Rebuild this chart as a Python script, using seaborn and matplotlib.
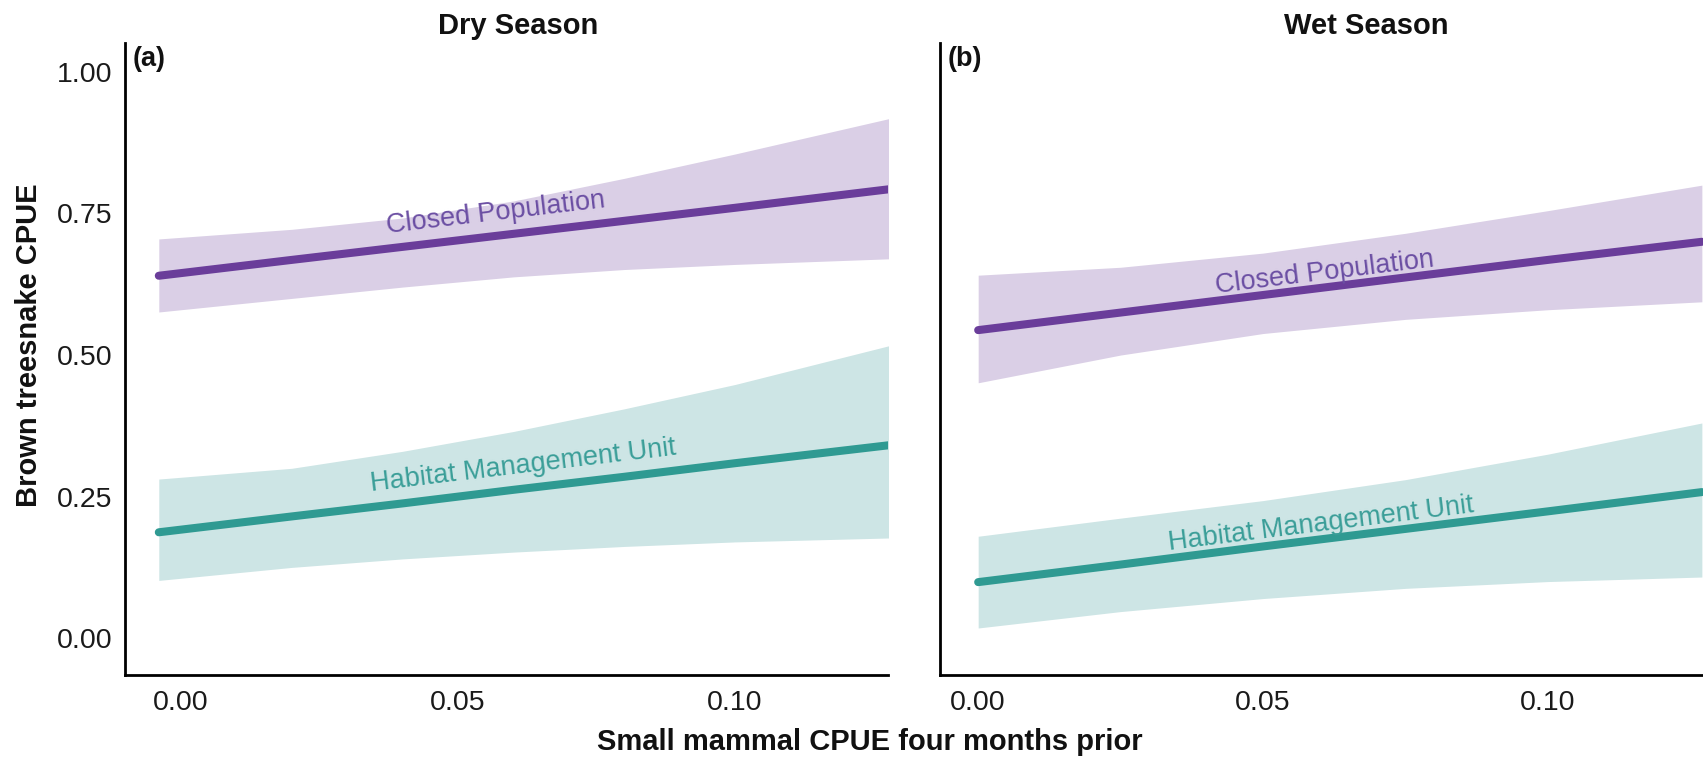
import numpy as np
import pandas as pd
import matplotlib
matplotlib.use("Agg")
import matplotlib.pyplot as plt
import seaborn as sns

# ---------------- data ----------------
x_dry = [-0.004, 0.02, 0.04, 0.06, 0.08, 0.10, 0.128]
dry_closed_fit = [0.640, 0.668, 0.691, 0.714, 0.737, 0.760, 0.793]
dry_closed_lo = [0.576, 0.600, 0.620, 0.638, 0.651, 0.660, 0.670]
dry_closed_hi = [0.705, 0.722, 0.742, 0.772, 0.812, 0.855, 0.918]
dry_hmu_fit = [0.187, 0.215, 0.238, 0.262, 0.285, 0.309, 0.341]
dry_hmu_lo = [0.102, 0.125, 0.140, 0.152, 0.162, 0.170, 0.177]
dry_hmu_hi = [0.281, 0.300, 0.330, 0.365, 0.405, 0.448, 0.517]

x_wet = [0.0, 0.025, 0.05, 0.075, 0.10, 0.127]
wet_closed_fit = [0.544, 0.575, 0.606, 0.637, 0.668, 0.700]
wet_closed_lo = [0.451, 0.500, 0.538, 0.563, 0.580, 0.594]
wet_closed_hi = [0.641, 0.655, 0.680, 0.715, 0.755, 0.800]
wet_hmu_fit = [0.099, 0.130, 0.162, 0.193, 0.224, 0.258]
wet_hmu_lo = [0.018, 0.047, 0.070, 0.088, 0.100, 0.108]
wet_hmu_hi = [0.180, 0.212, 0.243, 0.280, 0.325, 0.380]

groups = ["Closed Population", "Habitat Management Unit"]
seasons = ["Dry Season", "Wet Season"]
panel_tags = ["(a)", "(b)"]
y_ticks = [0.00, 0.25, 0.50, 0.75, 1.00]
x_ticks = [0.00, 0.05, 0.10]
xlabel = "Small mammal CPUE four months prior"
ylabel = "Brown treesnake CPUE"

# ---------------- styling ----------------
sns.set_theme(style="white")
plt.rcParams["font.family"] = ["Liberation Sans", "DejaVu Sans"]

line_col = {"Closed Population": "#6a3d9a", "Habitat Management Unit": "#2f9a92"}
band_col = {"Closed Population": "#dacfe6", "Habitat Management Unit": "#cde5e5"}
text_col = {"Closed Population": "#6b4ea3", "Habitat Management Unit": "#3a9e98"}

W, H = 1703, 761
fig = plt.figure(figsize=(W / 100, H / 100), dpi=100)

ax_left = fig.add_axes([125 / W, 1 - 675 / H, (888 - 125) / W, (675 - 43) / H])
ax_right = fig.add_axes([940 / W, 1 - 675 / H, (1703 - 940) / W, (675 - 43) / H])

panels = [
    (ax_left, x_dry,
     {"Closed Population": (dry_closed_fit, dry_closed_lo, dry_closed_hi),
      "Habitat Management Unit": (dry_hmu_fit, dry_hmu_lo, dry_hmu_hi)},
     (-0.0101, 0.1276), {"Closed Population": 0.057, "Habitat Management Unit": 0.062}, 7),
    (ax_right, x_wet,
     {"Closed Population": (wet_closed_fit, wet_closed_lo, wet_closed_hi),
      "Habitat Management Unit": (wet_hmu_fit, wet_hmu_lo, wet_hmu_hi)},
     (-0.0067, 0.1272), {"Closed Population": 0.061, "Habitat Management Unit": 0.0605}, 1.5),
]

for i, (ax, xs, series, xlim, label_x, off) in enumerate(panels):
    rows = []
    for g in groups:
        fit, lo, hi = series[g]
        ax.fill_between(xs, lo, hi, color=band_col[g], lw=0, zorder=1)
        for xv, yv in zip(xs, fit):
            rows.append({"x": xv, "y": yv, "group": g})
    df = pd.DataFrame(rows)
    sns.lineplot(data=df, x="x", y="y", hue="group", palette=line_col,
                 linewidth=5.8, legend=False, ax=ax, zorder=3)
    ax.set_xlim(*xlim)
    ax.set_ylim(-0.065, 1.051)
    ax.set_xticks(x_ticks)
    ax.set_xticklabels([f"{t:.2f}" for t in x_ticks])
    ax.set_yticks(y_ticks)
    if i == 0:
        ax.set_yticklabels([f"{t:.2f}" for t in y_ticks])
    else:
        ax.set_yticklabels([])
    ax.tick_params(axis="both", length=0, labelsize=20.5, colors="#1a1a1a")
    ax.tick_params(axis="y", pad=9)
    ax.tick_params(axis="x", pad=11)
    ax.set_xlabel("")
    ax.set_ylabel("")
    for s in ["top", "right"]:
        ax.spines[s].set_visible(False)
    for s in ["left", "bottom"]:
        ax.spines[s].set_color("black")
        ax.spines[s].set_linewidth(2.0)
    ax.text(0.010, 0.995, panel_tags[i], transform=ax.transAxes, ha="left", va="top",
            fontsize=19.5, fontweight="bold", color="#111111")

fig.canvas.draw()

# curve labels rotated along lines
for ax, xs, series, xlim, label_x, off in panels:
    for g in groups:
        fit = series[g][0]
        x0, x1 = xs[0], xs[-1]
        p0 = ax.transData.transform((x0, fit[0]))
        p1 = ax.transData.transform((x1, fit[-1]))
        ang = np.degrees(np.arctan2(p1[1] - p0[1], p1[0] - p0[0]))
        xl = label_x[g]
        yl = np.interp(xl, xs, fit)
        ax.annotate(g, xy=(xl, yl), xytext=(0, off), textcoords="offset points",
                    rotation=ang, rotation_mode="anchor", ha="center", va="bottom",
                    fontsize=19.5, color=text_col[g], zorder=4)

# titles and shared labels
fig.text(518 / W, 1 - 26 / H, seasons[0], ha="center", va="center",
         fontsize=21, fontweight="bold", color="#111111")
fig.text(1366 / W, 1 - 26 / H, seasons[1], ha="center", va="center",
         fontsize=21, fontweight="bold", color="#111111")
fig.text(870 / W, 1 - 742 / H, xlabel, ha="center", va="center",
         fontsize=21, fontweight="bold", color="#111111")
fig.text(29 / W, 1 - 345 / H, ylabel, ha="center", va="center", rotation=90,
         fontsize=21, fontweight="bold", color="#111111")

fig.savefig("out.png", dpi=100, facecolor="white")
